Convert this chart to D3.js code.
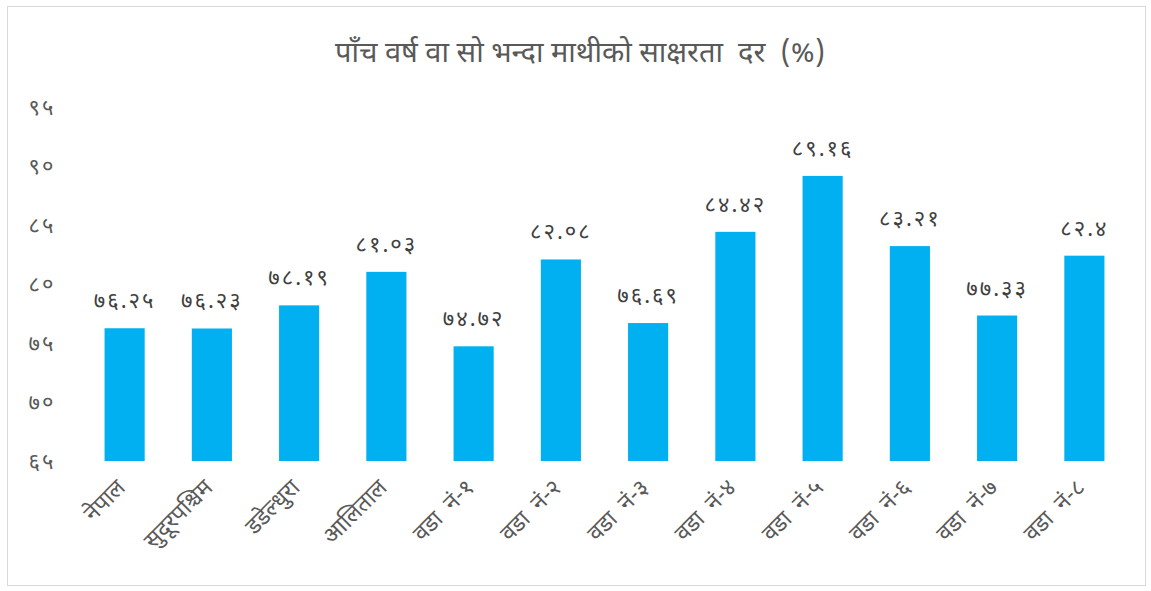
<!DOCTYPE html>
<html>
<head>
<meta charset="utf-8">
<script src="https://cdn.jsdelivr.net/npm/d3@7"></script>
<style>
body { margin:0; background:#fff; }
text { font-family: "Noto Sans Devanagari", "Mangal", "Kokila", "Noto Sans", sans-serif; white-space: pre; }
</style>
</head>
<body>
<div id="chart"></div>
<script>
var categories = ["नेपाल","सुदूरपश्चिम","डडेल्धुरा","आलिताल","वडा  नं-१","वडा  नं-२","वडा  नं-३","वडा  नं-४","वडा  नं-५","वडा  नं-६","वडा  नं-७","वडा  नं-८"];
var values = [76.25, 76.23, 78.19, 81.03, 74.72, 82.08, 76.69, 84.42, 89.16, 83.21, 77.33, 82.4];
var yTicks = [65, 70, 75, 80, 85, 90, 95];
var title = "पाँच वर्ष वा सो भन्दा माथीको साक्षरता  दर  (%)";

var devDigits = "०१२३४५६७८९";
var toDev = function(s){
	return String(s).replace(/[0-9]/g, function(c){ return devDigits[+c]; });
};

var W = 1151, H = 591;
var svg = d3.select("#chart").append("svg").attr("width", W).attr("height", H);

svg.append("rect").attr("x", 7.5).attr("y", 6.5).attr("width", 1138).attr("height", 579)
	.attr("fill", "#fff").attr("stroke", "#d9d9d9").attr("stroke-width", 1);

var x = d3.scaleBand().domain(categories).range([81, 1128]).paddingInner(0.54).paddingOuter(0.27);
var y = d3.scaleLinear().domain([65, 95]).range([461, 107]);

svg.append("text").attr("x", 580).attr("y", 62).attr("text-anchor", "middle")
	.attr("font-size", 29).attr("fill", "#595959").text(title);

// y axis, labels only
var yAxis = d3.axisLeft(y).tickValues(yTicks).tickSize(0).tickPadding(0).tickFormat(function(d){ return toDev(d); });
var gy = svg.append("g").attr("transform", "translate(42,0)").call(yAxis);
gy.select(".domain").remove();
gy.selectAll("text").attr("font-size", 22).attr("fill", "#595959").attr("text-anchor", "middle")
	.attr("letter-spacing", 2).attr("dy", "0.35em");

svg.append("g").selectAll(".bar").data(values).enter()
	.append("rect").attr("class", "bar")
	.attr("x", function(d, i){ return x(categories[i]); })
	.attr("y", function(d){ return y(d); })
	.attr("width", x.bandwidth())
	.attr("height", function(d){ return y(65) - y(d); })
	.attr("fill", "#00b0f0");

svg.append("g").selectAll(".lbl").data(values).enter()
	.append("text").attr("class", "lbl")
	.attr("x", function(d, i){ return x(categories[i]) + x.bandwidth() / 2; })
	.attr("y", function(d){ return y(d) - 20; })
	.attr("text-anchor", "middle")
	.attr("font-size", 22).attr("letter-spacing", 2).attr("fill", "#404040")
	.text(function(d){ return toDev(d); });

// x axis labels, rotated
var xAxis = d3.axisBottom(x).tickSize(0).tickPadding(0);
var gx = svg.append("g").attr("transform", "translate(0,461)").call(xAxis);
gx.select(".domain").remove();
gx.selectAll("text")
	.attr("font-size", 23).attr("fill", "#595959")
	.attr("text-anchor", "end")
	.attr("y", 0).attr("dy", 0)
	.attr("transform", "translate(2,28) rotate(-45)");
</script>
</body>
</html>
